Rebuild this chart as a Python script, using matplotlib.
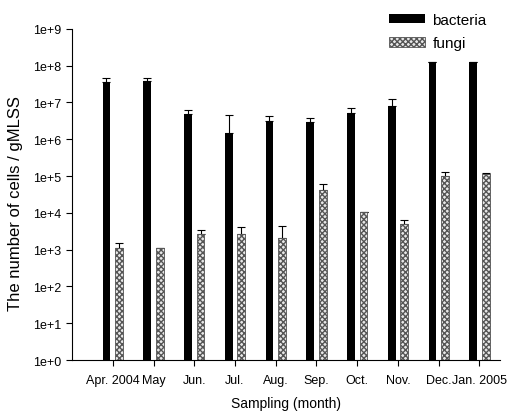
import numpy as np
import matplotlib
matplotlib.use("Agg")
import matplotlib.pyplot as plt

plt.rcParams['font.family'] = ['Liberation Sans', 'DejaVu Sans']

months = ['Apr. 2004', 'May', 'Jun.', 'Jul.', 'Aug.', 'Sep.', 'Oct.', 'Nov.', 'Dec.', 'Jan. 2005']
bacteria = [3.6e7, 3.8e7, 4.9e6, 1.5e6, 3.2e6, 2.9e6, 5.2e6, 8.1e6, 1.25e8, 1.25e8]
bacteria_top = [4.6e7, 4.5e7, 6.3e6, 4.6e6, 4.3e6, 3.8e6, 7.1e6, 1.2e7, 1.25e8, 1.25e8]
fungi = [1.1e3, 1.1e3, 2.6e3, 2.6e3, 2.1e3, 4.2e4, 1.05e4, 5.0e3, 1.0e5, 1.1e5]
fungi_top = [1.5e3, 1.1e3, 3.4e3, 4.1e3, 4.4e3, 6.1e4, 1.05e4, 6.3e3, 1.27e5, 1.2e5]

x = np.arange(len(months))
w = 0.19
off = 0.155

fig = plt.figure(figsize=(5.18, 4.14), dpi=100)
ax = fig.add_axes([0.139, 0.128, 0.826, 0.8])

ax.bar(x - off, bacteria, w, color='black', label='bacteria', zorder=2)
ax.bar(x + off, fungi, w, facecolor='#e8e8e8', edgecolor='#555555', hatch='xxxxxx',
       linewidth=0.6, label='fungi', zorder=2)

b = np.array(bacteria)
f = np.array(fungi)
ax.errorbar(x - off, b, yerr=[np.zeros_like(b), np.array(bacteria_top) - b], fmt='none',
            ecolor='black', elinewidth=0.8, capsize=3, capthick=0.8, zorder=1)
ax.errorbar(x + off, f, yerr=[np.zeros_like(f), np.array(fungi_top) - f], fmt='none',
            ecolor='black', elinewidth=0.8, capsize=3, capthick=0.8, zorder=1)

ax.set_yscale('log')
ax.set_ylim(1, 1e9)
ax.set_xlim(-1.0, 9.5)
ax.set_yticks([10.0 ** k for k in range(10)])
ax.set_yticklabels(['1e+%d' % k for k in range(10)])
ax.yaxis.set_minor_locator(matplotlib.ticker.NullLocator())
ax.set_xticks(x)
ax.set_xticklabels(months)
ax.tick_params(axis='both', labelsize=9, length=4, width=0.8, direction='out')
ax.tick_params(axis='x', pad=6)

for s in ['top', 'right']:
    ax.spines[s].set_visible(False)
for s in ['left', 'bottom']:
    ax.spines[s].set_linewidth(0.8)

ax.set_xlabel('Sampling (month)', fontsize=10, labelpad=7)
ax.set_ylabel('The number of cells / gMLSS', fontsize=12)
ax.yaxis.set_label_coords(-0.115, 0.475)

ax.legend(loc='upper left', bbox_to_anchor=(389 / 518, 1 - 14 / 414), bbox_transform=fig.transFigure,
          frameon=False, fontsize=11, borderpad=0, borderaxespad=0,
          handlelength=2.35, handleheight=0.6, handletextpad=0.5, labelspacing=0.6)

fig.savefig('out.png', dpi=100)
